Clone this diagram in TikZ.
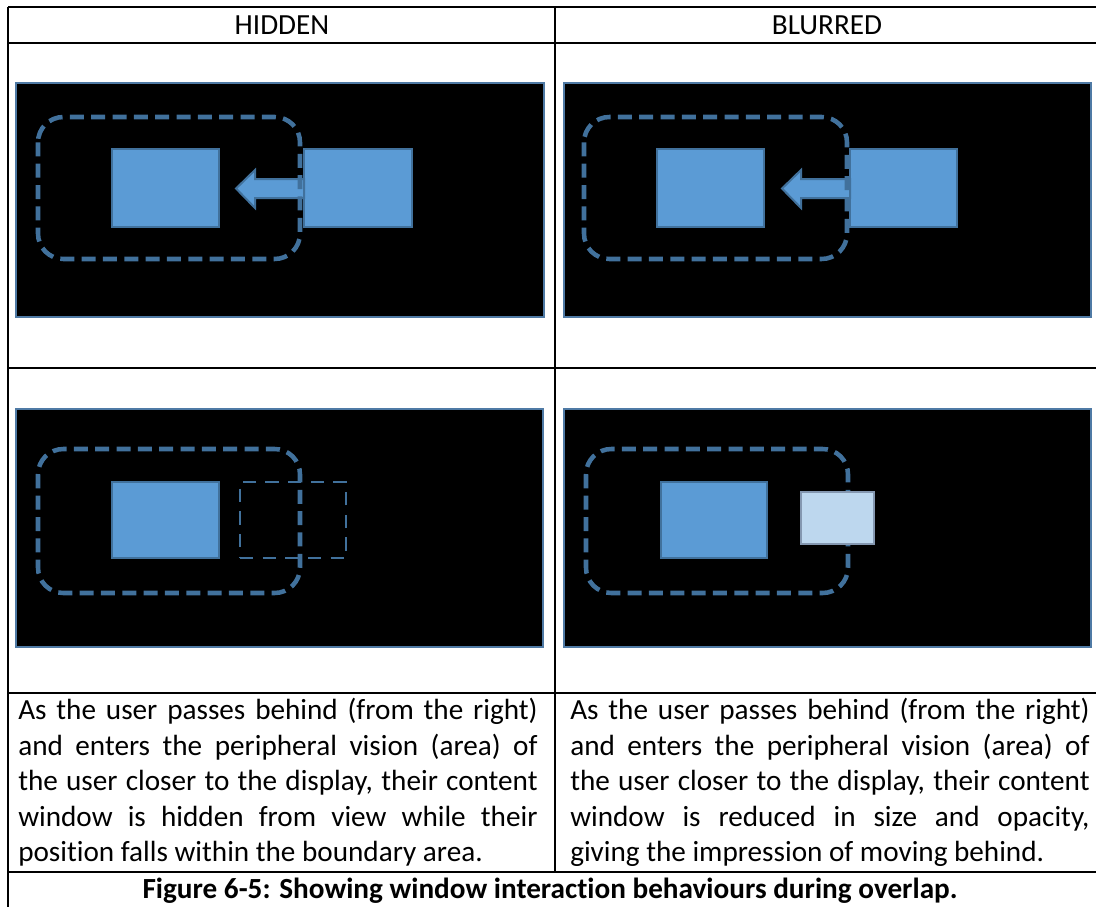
\documentclass[tikz,border=0pt]{standalone}
\usepackage{fontspec}
\setmainfont{Carlito}[Ligatures={NoCommon}]
\usetikzlibrary{fit}
\definecolor{winfill}{HTML}{5B9BD5}
\definecolor{winedge}{HTML}{41719C}
\definecolor{zoneblue}{HTML}{41719C}
\definecolor{paneledge}{HTML}{4F7AA5}
\definecolor{lightfill}{HTML}{BDD7EE}
\definecolor{lightedge}{HTML}{8497B0}
\newcommand{\bodyfont}{\fontsize{21.9pt}{26.6pt}\selectfont}
\newcommand{\capfont}{\fontsize{21.9pt}{26.6pt}\selectfont\bfseries}
\newcommand{\jline}[1]{\makebox[389.5pt][s]{#1}}
\tikzset{
  panel/.style={fill=black, draw=paneledge, line width=1.5pt, inner sep=0pt},
  win/.style={fill=winfill, draw=winedge, line width=1.5pt, inner sep=0pt},
  zone/.style={draw=zoneblue, line width=3.4pt, dash pattern=on 10.5pt off 5.5pt, rounded corners=19pt},
  ghost/.style={draw=zoneblue, line width=2pt, dash pattern=on 10pt off 7pt, inner sep=0pt},
  faded/.style={fill=lightfill, draw=lightedge, line width=1pt, inner sep=0pt},
  tablerule/.style={draw=black, line width=1.5pt},
  blockarrow/.style={fill=winfill, draw=winedge, line width=1.5pt, line join=miter},
  celltext/.style={inner sep=0pt, align=left, font=\bodyfont, anchor=north west}
}
\begin{document}
\begin{tikzpicture}[x=0.75pt,y=-0.75pt]
\useasboundingbox (0,0) rectangle (1096,907);
\fill[white] (0,0) rectangle (1096,907);

% ---------- table rules ----------
\draw[tablerule] (8,7) -- (1096,7);
\draw[tablerule] (8,43) -- (1096,43);
\draw[tablerule] (8,368) -- (1096,368);
\draw[tablerule] (8,693) -- (1096,693);
\draw[tablerule] (8,872) -- (1096,872);
\draw[tablerule] (8,7) -- (8,907);
\draw[tablerule] (555,7) -- (555,872);

% ---------- headers ----------
\node[font=\bodyfont, anchor=base, inner sep=0pt] (hh) at (282,34) {HIDDEN};
\node[font=\bodyfont, anchor=base, inner sep=0pt] (hb) at (827,34) {BLURRED};

% ---------- row 1, left (HIDDEN) ----------
\node[panel, fit={(16,83)(544,317)}] (p1) {};
\node[win, fit={(112,149)(219,227)}] (a1) {};
\node[win, fit={(304,149)(412,227)}] (b1) {};
\draw[blockarrow] (236,188.5) -- (255,170) -- (255,179) -- (304,179) -- (304,198) -- (255,198) -- (255,208) -- cycle;
\draw[zone] (38,117) rectangle (300,259);

% ---------- row 1, right (BLURRED) ----------
\node[panel, fit={(564,83)(1091,317)}] (p2) {};
\node[win, fit={(657,149)(764,227)}] (a2) {};
\node[win, fit={(850,149)(957,227)}] (b2) {};
\draw[blockarrow] (782,188.5) -- (801,170) -- (801,179) -- (850,179) -- (850,198) -- (801,198) -- (801,208) -- cycle;
\draw[zone] (584,117) rectangle (847,259);

% ---------- row 2, left (HIDDEN) ----------
\node[panel, fit={(16,409)(543,647)}] (p3) {};
\node[win, fit={(112,482)(219,558)}] (a3) {};
\node[ghost, fit={(240,482)(346,558)}] (g3) {};
\draw[zone] (38,449) rectangle (300,593);

% ---------- row 2, right (BLURRED) ----------
\node[panel, fit={(564,409)(1091,647)}] (p4) {};
\node[win, fit={(661,482)(767,558)}] (a4) {};
\draw[zone] (586,449) rectangle (848,593);
\node[faded, fit={(801,492)(874,544)}] (f4) {};

% ---------- descriptions ----------
\node[celltext] (tl) at (18,698) {%
\jline{As the user passes behind (from the right)}\\
\jline{and enters the peripheral vision (area) of}\\
\jline{the user closer to the display, their content}\\
\jline{window is hidden from view while their}\\
position falls within the boundary area.};
\node[celltext] (tr) at (570,698) {%
\jline{As the user passes behind (from the right)}\\
\jline{and enters the peripheral vision (area) of}\\
\jline{the user closer to the display, their content}\\
\jline{window is reduced in size and opacity,}\\
giving the impression of moving behind.};

% ---------- caption ----------
\node[font=\capfont, anchor=base, inner sep=0pt] (cap) at (550,898) {Figure 6-5: Showing window interaction behaviours during overlap.};
\end{tikzpicture}
\end{document}
